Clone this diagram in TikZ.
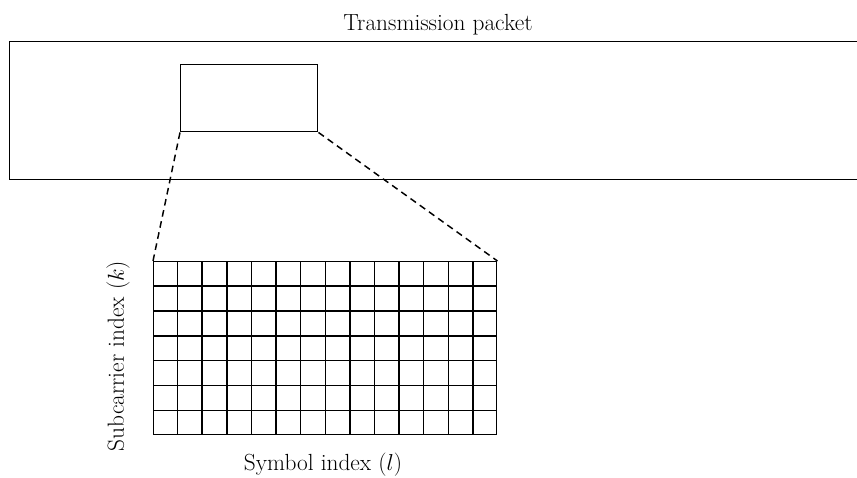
\documentclass[tikz,border=0pt]{standalone}
\usepackage{xcolor}
\usepackage{tikz}
\usetikzlibrary{positioning, calc}

\begin{document}
\begin{tikzpicture}[x=0.75pt, y=-0.75pt, line width=1.1pt,
    box/.style={rectangle, draw=black, inner sep=0pt},
    zoomline/.style={dash pattern=on 5pt off 3.5pt},
    lbl/.style={font=\fontsize{17.5}{21}\selectfont, inner sep=0pt}]
    \useasboundingbox (0,0) rectangle (857,478);
    % packet and the selected block
    \node[box, minimum width=645pt, minimum height=103.5pt, anchor=north west] (packet) at (9,41) {};
    \node[box, minimum width=102.75pt, minimum height=50.25pt, anchor=north west] (block) at (180,64) {};
    \node[lbl] (title) at (438,25) {Transmission packet};
    % resource grid
    \node[box, minimum width=257.25pt, minimum height=129.75pt, anchor=north west] (grid) at (153,261) {};
    \foreach \i in {1,...,13}
        \draw ($(grid.north west)!\i/14!(grid.north east)$) -- ($(grid.south west)!\i/14!(grid.south east)$);
    \foreach \j in {1,...,6}
        \draw ($(grid.north west)!\j/7!(grid.south west)$) -- ($(grid.north east)!\j/7!(grid.south east)$);
    \draw[zoomline] (block.south west) -- (grid.north west);
    \draw[zoomline] (block.south east) -- (grid.north east);
    \node[lbl] (xlabel) at (323,465) {Symbol index ($l$)};
    \node[lbl, rotate=90] (ylabel) at (118,356) {Subcarrier index ($k$)};
\end{tikzpicture}
\end{document}
